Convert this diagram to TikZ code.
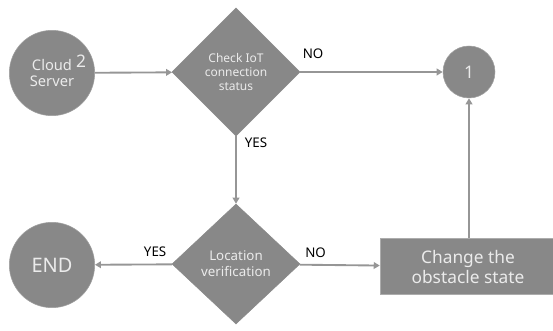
\documentclass[tikz,border=0pt]{standalone}
\usepackage{fontspec}
\setmainfont{Noto Sans}
\usetikzlibrary{shapes.geometric,arrows.meta}
\definecolor{boxgray}{RGB}{136,136,136}
\definecolor{linegray}{RGB}{150,150,150}
\tikzset{
    circ/.style={circle,fill=boxgray,draw=boxgray!80!white,text=white!92!black,inner sep=0pt,align=center},
    decision/.style={diamond,fill=boxgray,draw=boxgray,text=white!92!black,inner sep=0pt,
        minimum width=96pt,align=center,font=\fontsize{9}{10.5}\selectfont},
    process/.style={rectangle,fill=boxgray,draw=boxgray!70!white,text=white!92!black,
        minimum width=132pt,minimum height=42pt,align=center,font=\fontsize{13}{15}\selectfont},
    flow/.style={draw=linegray,line width=1.4pt,-{Triangle[width=5pt,length=4.5pt]}},
    answer/.style={font=\fontsize{10}{11}\selectfont,inner sep=0pt}
}
\begin{document}
\begin{tikzpicture}[x=0.75pt,y=-0.75pt]
    \useasboundingbox (0,0) rectangle (553,331);

    \node[circ,minimum size=64pt,font=\fontsize{11}{12.5}\selectfont] (cloud) at (52,73) {Cloud\\Server};
    \node[font=\fontsize{13}{13}\selectfont,text=white!92!black] (sup) at (81,61) {2};
    \node[decision,minimum height=96pt] (check) at (236,72) {Check IoT\\connection\\status};
    \node[circ,minimum size=39pt,font=\fontsize{13}{14}\selectfont] (one) at (469,72) {1};

    \node[decision,minimum height=90pt,font=\fontsize{10}{12}\selectfont] (loc) at (236,264) {Location\\verification};
    \node[circ,minimum size=64pt,font=\fontsize{15}{16}\selectfont] (end) at (52,265) {END};
    \node[process] (change) at (468,266.5) {Change the\\obstacle state};

    \draw[flow] (cloud) -- (check);
    \draw[flow] (check) -- node[answer,above=9pt,pos=0.09] {NO} (one);
    \draw[flow] (check.south) -- node[answer,right=6pt,pos=0.1] {YES} (loc.north);
    \draw[flow] (loc) -- node[answer,above=5pt,pos=0.22] {YES} (end);
    \draw[flow] (loc) -- node[answer,above=5pt,pos=0.2] {NO} (change);
    \draw[flow] (change.north -| one) -- (one);
\end{tikzpicture}
\end{document}
